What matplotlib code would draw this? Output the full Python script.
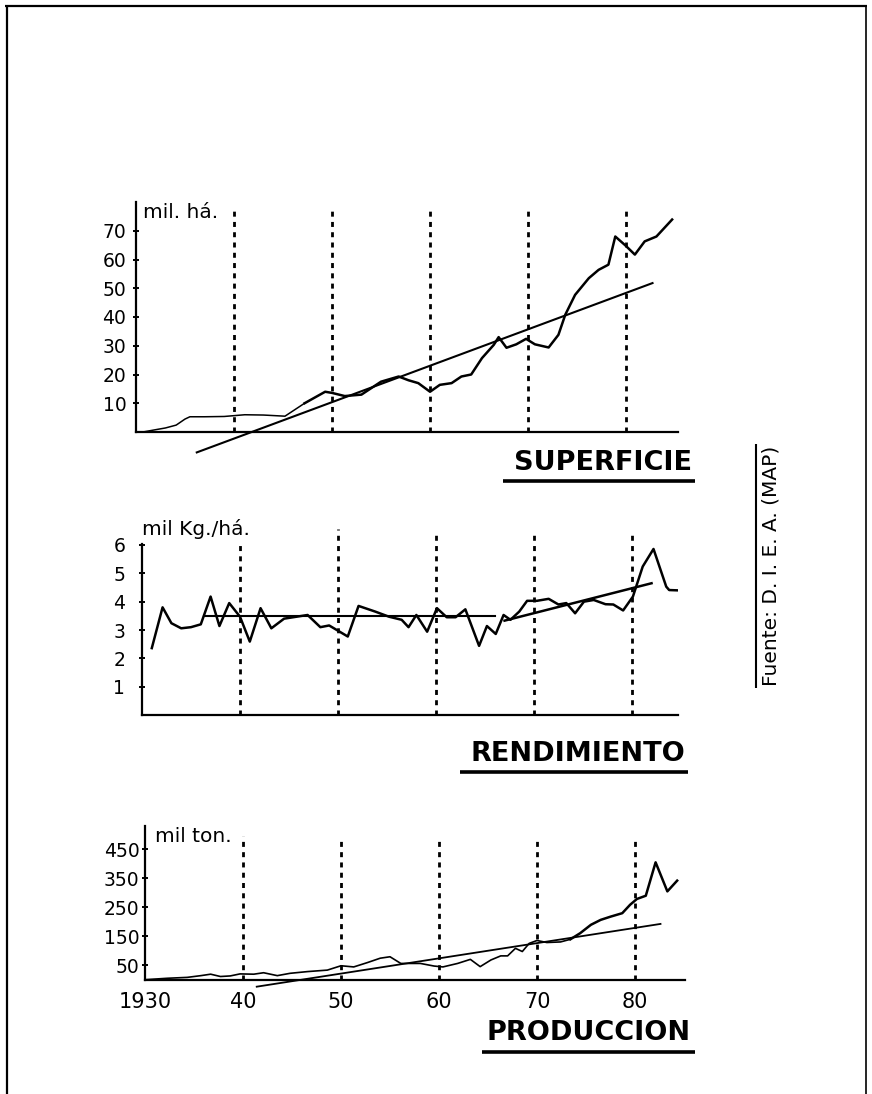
import matplotlib

matplotlib.use("Agg")
import matplotlib.pyplot as plt
from matplotlib.lines import Line2D

W, H = 872, 1094

DECADES = [1940, 1950, 1960, 1970, 1980]

# SUPERFICIE (mil há.)
SUP_YEARS = [1930.7, 1932.0, 1933.0, 1934.1, 1935.0, 1935.5, 1937.0, 1939.0,
             1941.1, 1943.0, 1945.2, 1947.2, 1949.3, 1950.0, 1951.3, 1953.0,
             1955.0, 1956.8, 1957.8, 1958.8, 1960.0, 1961.0, 1962.2, 1963.2,
             1964.2, 1965.3, 1966.5, 1967.0, 1967.8, 1968.8, 1969.8, 1970.7,
             1972.1, 1973.1, 1973.8, 1974.8, 1976.2, 1977.2, 1978.2, 1978.9,
             1979.9, 1980.9, 1981.9, 1983.1, 1984.7]
SUP_VALUES = [0.0, 0.8, 1.4, 2.4, 4.5, 5.3, 5.3, 5.4,
              6.0, 5.9, 5.5, 10.0, 14.0, 13.6, 12.5, 13.0,
              17.5, 19.3, 18.0, 17.0, 14.0, 16.4, 17.0, 19.3,
              20.0, 25.7, 30.3, 33.0, 29.3, 30.5, 32.4, 30.5,
              29.4, 33.8, 40.8, 47.7, 53.5, 56.4, 58.2, 68.0,
              65.0, 61.7, 66.3, 68.0, 73.9]
SUP_TREND_YEARS = [1936.2, 1982.7]
SUP_TREND_VALUES = [-7.1, 51.8]
SUP_TICKS = [10, 20, 30, 40, 50, 60, 70]

# RENDIMIENTO (mil Kg./há.)
REN_YEARS = [1931.0, 1932.1, 1933.0, 1934.0, 1935.0, 1936.0, 1937.0, 1937.9,
             1938.9, 1940.0, 1941.0, 1942.1, 1943.2, 1944.5, 1946.9, 1948.2,
             1949.1, 1951.0, 1952.1, 1953.8, 1955.2, 1956.5, 1957.2, 1958.0,
             1959.1, 1960.1, 1961.1, 1962.0, 1963.0, 1964.4, 1965.2, 1966.1,
             1966.9, 1967.6, 1968.5, 1969.3, 1970.3, 1971.5, 1972.5, 1973.3,
             1974.2, 1975.1, 1976.1, 1977.3, 1978.1, 1979.1, 1980.1, 1981.1,
             1982.2, 1983.5, 1983.8, 1984.6]
REN_VALUES = [2.36, 3.80, 3.24, 3.06, 3.10, 3.20, 4.18, 3.14,
              3.95, 3.47, 2.59, 3.77, 3.06, 3.40, 3.53, 3.10,
              3.16, 2.77, 3.85, 3.65, 3.47, 3.36, 3.10, 3.53,
              2.94, 3.77, 3.45, 3.45, 3.73, 2.44, 3.14, 2.86,
              3.53, 3.36, 3.65, 4.03, 4.03, 4.10, 3.90, 3.95,
              3.59, 4.00, 4.06, 3.91, 3.90, 3.69, 4.18, 5.24,
              5.86, 4.53, 4.41, 4.40]
REN_MEAN_YEARS = [1936.3, 1966.0]
REN_MEAN_VALUES = [3.48, 3.48]
REN_TREND_YEARS = [1967.0, 1982.0]
REN_TREND_VALUES = [3.33, 4.65]
REN_TICKS = [1, 2, 3, 4, 5, 6]

# PRODUCCION (mil ton.)
PRO_YEARS = [1930.0, 1932.3, 1934.3, 1935.7, 1936.7, 1937.7, 1938.7, 1939.7,
             1941.1, 1942.1, 1943.5, 1944.8, 1946.6, 1948.6, 1950.0, 1951.3,
             1952.7, 1954.0, 1955.0, 1956.1, 1958.1, 1959.5, 1960.4, 1961.9,
             1963.2, 1964.2, 1965.3, 1966.3, 1967.0, 1967.8, 1968.5, 1969.2,
             1970.0, 1971.0, 1972.4, 1973.4, 1974.4, 1975.5, 1976.5, 1977.5,
             1978.7, 1979.5, 1980.2, 1981.1, 1982.1, 1983.3, 1984.3]
PRO_VALUES = [1, 6, 9, 15, 20, 12, 14, 21,
              20, 25, 15, 23, 29, 34, 49, 45,
              60, 75, 80, 57, 57, 48, 45, 57,
              71, 46, 69, 83, 83, 109, 98, 126,
              136, 129, 131, 140, 161, 190, 207, 218,
              230, 259, 279, 290, 405, 305, 342]
PRO_TREND_YEARS = [1941.4, 1982.6]
PRO_TREND_VALUES = [-23, 193]
PRO_TICKS = [50, 150, 250, 350, 450]

X_TICKS = [1930, 1940, 1950, 1960, 1970, 1980]
X_LABELS = ["1930", "40", "50", "60", "70", "80"]


def px_axes(fig, left, right, top, bottom):
    return fig.add_axes([left / W, 1 - bottom / H, (right - left) / W, (bottom - top) / H])


def fig_text(fig, x, y, s, **kw):
    return fig.text(x / W, 1 - y / H, s, **kw)


def fig_line(fig, x0, y0, x1, y1, lw=1.5):
    fig.add_artist(Line2D([x0 / W, x1 / W], [1 - y0 / H, 1 - y1 / H],
                          transform=fig.transFigure, color="black", lw=lw,
                          solid_capstyle="butt"))


def style_axes(ax, ticks, pad):
    for side in ("top", "right"):
        ax.spines[side].set_visible(False)
    for side in ("left", "bottom"):
        ax.spines[side].set_linewidth(1.6)
    ax.set_yticks(ticks)
    ax.tick_params(axis="y", direction="inout", length=4, width=1.4,
                   labelsize=13.5, pad=pad)
    ax.tick_params(axis="x", length=0)
    ax.set_xticks([])


def decade_lines(ax, tops):
    for x, top in zip(DECADES, tops):
        ax.plot([x, x], [0, top], color="black", lw=2.0,
                linestyle=(0, (1.8, 1.9)), clip_on=False)


fig = plt.figure(figsize=(W / 100, H / 100), dpi=100)
fig.patch.set_facecolor("white")

# frame
fig_line(fig, 5, 6, 867, 6, lw=1.6)
fig_line(fig, 7, 6, 7, 1094, lw=1.6)
fig_line(fig, 866, 6, 866, 1094, lw=1.2)

# --- SUPERFICIE ---
ax1 = px_axes(fig, 136, 678, 202, 432)
ax1.set_xlim(1930, 1985.3)
ax1.set_ylim(0, 80)
style_axes(ax1, SUP_TICKS, 5)
decade_lines(ax1, [78.6, 78.0, 78.6, 78.6, 78.0])
ax1.plot(SUP_YEARS[:12], SUP_VALUES[:12], color="black", lw=1.1)
ax1.plot(SUP_YEARS[11:], SUP_VALUES[11:], color="black", lw=1.8)
ax1.plot(SUP_TREND_YEARS, SUP_TREND_VALUES, color="black", lw=1.5, clip_on=False)
fig_text(fig, 143, 213, "mil. há.", fontsize=14.5, va="center", ha="left")
fig_text(fig, 692, 463, "SUPERFICIE", fontsize=19.5, fontweight="bold",
         ha="right", va="center")
fig_line(fig, 503, 481, 695, 481, lw=2.6)

# --- RENDIMIENTO ---
ax2 = px_axes(fig, 142, 678, 528, 715)
ax2.set_xlim(1930, 1984.7)
ax2.set_ylim(0, 6.6)
style_axes(ax2, REN_TICKS, 10)
ax2.spines["left"].set_bounds(0, 6.05)
decade_lines(ax2, [6.0, 6.55, 6.45, 6.45, 6.5])
ax2.plot(REN_YEARS, REN_VALUES, color="black", lw=1.8)
ax2.plot(REN_MEAN_YEARS, REN_MEAN_VALUES, color="black", lw=1.5)
ax2.plot(REN_TREND_YEARS, REN_TREND_VALUES, color="black", lw=1.8)
fig_text(fig, 142, 529, "mil Kg./há.", fontsize=14.5, va="center", ha="left")
fig_text(fig, 685, 754, "RENDIMIENTO", fontsize=19.5, fontweight="bold",
         ha="right", va="center")
fig_line(fig, 460, 772, 688, 772, lw=2.6)

# --- PRODUCCION ---
ax3 = px_axes(fig, 145, 685, 826, 980)
ax3.set_xlim(1930, 1985.1)
ax3.set_ylim(0, 530)
style_axes(ax3, PRO_TICKS, 2)
decade_lines(ax3, [495, 490, 485, 485, 490])
ax3.plot(PRO_YEARS[:36], PRO_VALUES[:36], color="black", lw=1.2)
ax3.plot(PRO_YEARS[35:], PRO_VALUES[35:], color="black", lw=1.8)
ax3.plot(PRO_TREND_YEARS, PRO_TREND_VALUES, color="black", lw=1.3, clip_on=False)
ax3.set_xticks(X_TICKS)
ax3.set_xticklabels(X_LABELS)
ax3.tick_params(axis="x", length=0, labelsize=15, pad=9)
fig_text(fig, 155, 837, "mil ton.", fontsize=14.5, va="center", ha="left")
fig_text(fig, 691, 1033, "PRODUCCION", fontsize=19.5, fontweight="bold",
         ha="right", va="center")
fig_line(fig, 482, 1052, 695, 1052, lw=2.6)

# source note
fig_text(fig, 771, 566, "Fuente: D. I. E. A. (MAP)", fontsize=14.5, rotation=90,
         ha="center", va="center")
fig_line(fig, 756, 444, 756, 688, lw=1.5)

fig.savefig("out.png", dpi=100, facecolor="white")
